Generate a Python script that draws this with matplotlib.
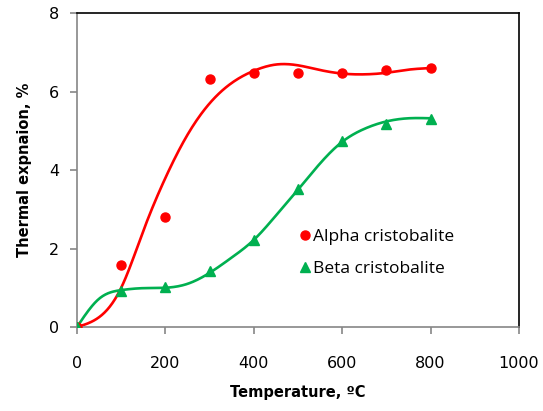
import numpy as np
import matplotlib
matplotlib.use("Agg")
import matplotlib.pyplot as plt

# measured points
temp = [0, 100, 200, 300, 400, 500, 600, 700, 800]
alpha = [0, 1.58, 2.81, 6.32, 6.48, 6.47, 6.47, 6.56, 6.6]
beta = [0, 0.93, 1.02, 1.42, 2.22, 3.52, 4.75, 5.17, 5.3]

# fitted curves, every 50 degrees
curve_t = [0, 50, 100, 150, 200, 250, 300, 350, 400, 450, 500, 550, 600, 650, 700, 750, 800]
alpha_fit = [0, 0.25, 1.0, 2.45, 3.8, 4.9, 5.7, 6.22, 6.53, 6.69, 6.67, 6.55, 6.46, 6.44, 6.48, 6.56, 6.6]
beta_fit = [0, 0.72, 0.94, 0.99, 1.0, 1.1, 1.38, 1.77, 2.22, 2.84, 3.5, 4.17, 4.72, 5.05, 5.24, 5.32, 5.32]

x_ticks = [0, 200, 400, 600, 800, 1000]
y_ticks = [0, 2, 4, 6, 8]


def natural_spline(xs, ys, n=400):
    # natural cubic spline through the read points
    xs = np.asarray(xs, float)
    ys = np.asarray(ys, float)
    m = len(xs)
    h = np.diff(xs)
    A = np.zeros((m, m))
    r = np.zeros(m)
    A[0, 0] = A[-1, -1] = 1
    for i in range(1, m - 1):
        A[i, i - 1] = h[i - 1]
        A[i, i] = 2 * (h[i - 1] + h[i])
        A[i, i + 1] = h[i]
        r[i] = 6 * ((ys[i + 1] - ys[i]) / h[i] - (ys[i] - ys[i - 1]) / h[i - 1])
    M = np.linalg.solve(A, r)
    xx = np.linspace(xs[0], xs[-1], n)
    k = np.clip(np.searchsorted(xs, xx) - 1, 0, m - 2)
    a = xs[k + 1] - xx
    b = xx - xs[k]
    hk = h[k]
    yy = (M[k] * a ** 3 / (6 * hk) + M[k + 1] * b ** 3 / (6 * hk)
          + (ys[k] / hk - M[k] * hk / 6) * a + (ys[k + 1] / hk - M[k + 1] * hk / 6) * b)
    return xx, yy


red = "#ff0000"
green = "#00b050"
grey = "#868686"

fig = plt.figure(figsize=(5.43, 4.11), dpi=100)
ax = fig.add_axes([0.1418, 0.2044, 0.8140, 0.7636])

sx, sy = natural_spline(curve_t, alpha_fit)
ax.plot(sx, sy, color=red, lw=1.9, zorder=2)
sx, sy = natural_spline(curve_t, beta_fit)
ax.plot(sx, sy, color=green, lw=1.9, zorder=2)

ax.plot(temp, alpha, "o", color=red, ms=6.5, ls="none", label="Alpha cristobalite", zorder=3)
ax.plot(temp, beta, "^", color=green, ms=6.5, ls="none", label="Beta cristobalite", zorder=3)

ax.set_xlim(0, 1000)
ax.set_ylim(0, 8)
ax.set_xticks(x_ticks)
ax.set_yticks(y_ticks)

for side in ("left", "bottom"):
    ax.spines[side].set_color(grey)
    ax.spines[side].set_linewidth(1.2)
for side in ("top", "right"):
    ax.spines[side].set_color("black")
    ax.spines[side].set_linewidth(1.2)

ax.tick_params(axis="both", direction="out", length=5, width=1.2, color=grey,
               labelsize=11.5, labelcolor="black")
ax.tick_params(axis="x", pad=16)
ax.tick_params(axis="y", pad=8)

ax.set_xlabel("Temperature, ºC", fontsize=10.5, fontweight="bold", labelpad=10)
ax.set_ylabel("Thermal expnaion, %", fontsize=10.5, fontweight="bold", labelpad=12)

ax.legend(loc="upper left", bbox_to_anchor=(0.48, 0.335), frameon=False,
          prop={"family": "Open Sans", "size": 12.5}, handletextpad=0.0,
          handlelength=1.0, labelspacing=0.9, borderaxespad=0)

fig.savefig("out.png", dpi=100)
